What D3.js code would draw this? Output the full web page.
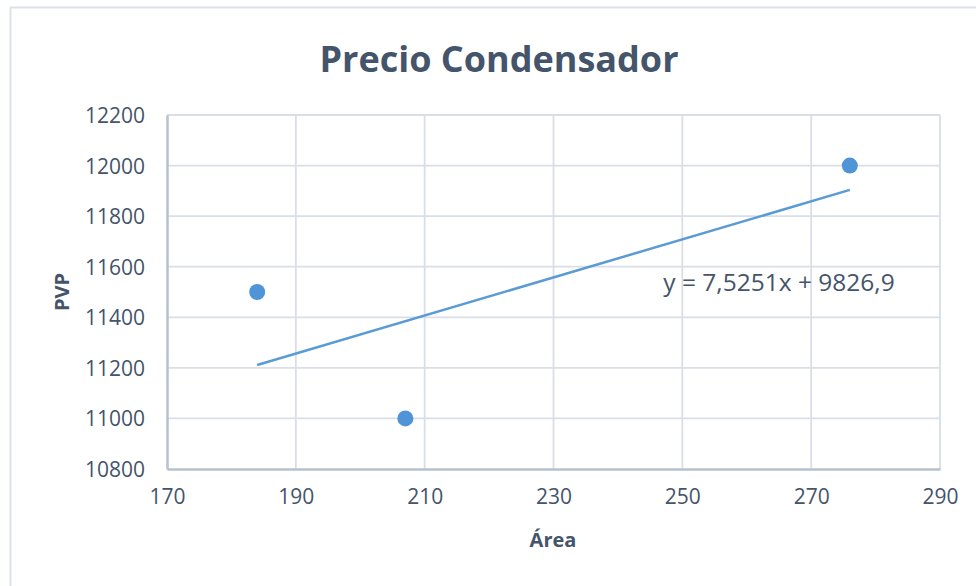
<!DOCTYPE html>
<html>
<head>
<meta charset="utf-8">
<script src="https://cdn.jsdelivr.net/npm/d3@7"></script>
<style>
html,body{margin:0;padding:0;background:#fff;}
svg{display:block;}
</style>
</head>
<body>
<svg id="chart" width="976" height="586"></svg>
<script>
const areaValues = [184, 207, 276];
const pvpValues = [11500, 11000, 12000];
const xTicks = [170, 190, 210, 230, 250, 270, 290];
const yTicks = [10800, 11000, 11200, 11400, 11600, 11800, 12000, 12200];
const trendSlope = 7.5251;
const trendIntercept = 9826.9;
const trendLabel = "y = 7,5251x + 9826,9";
const titleText = "Precio Condensador";
const xTitle = "Área";
const yTitle = "PVP";

const svg = d3.select("#chart");
const W = 976, H = 586;
const m = {left:167, right:36, top:115, bottom:117};
const textColor = "#44546a";
const font = "'Open Sans', 'Liberation Sans', sans-serif";

svg.append("rect").attr("x",0).attr("y",0).attr("width",W).attr("height",H).attr("fill","#fff");
// outer chart frame
svg.append("rect").attr("x",10.5).attr("y",7.5).attr("width",W+20).attr("height",H+20)
  .attr("fill","none").attr("stroke","#dde2ea").attr("stroke-width",2);

const x = d3.scaleLinear().domain([170,290]).range([m.left, W-m.right]);
const y = d3.scaleLinear().domain([10800,12200]).range([H-m.bottom, m.top]);

const g = svg.append("g");
// gridlines
g.selectAll(".hg").data(yTicks.slice(1)).join("line")
  .attr("x1",x(170)).attr("x2",x(290)).attr("y1",d=>y(d)).attr("y2",d=>y(d))
  .attr("stroke","#d9dee7").attr("stroke-width",1.8);
g.selectAll(".vg").data(xTicks.slice(1)).join("line")
  .attr("y1",y(10800)).attr("y2",y(12200)).attr("x1",d=>x(d)).attr("x2",d=>x(d))
  .attr("stroke","#d9dee7").attr("stroke-width",1.8);

// axes via d3
const yAxis = d3.axisLeft(y).tickValues(yTicks).tickSize(0).tickPadding(22).tickFormat(d3.format("d"));
const xAxis = d3.axisBottom(x).tickValues(xTicks).tickSize(0).tickPadding(16).tickFormat(d3.format("d"));
const ya = svg.append("g").attr("transform",`translate(${x(170)},0)`).call(yAxis);
const xa = svg.append("g").attr("transform",`translate(0,${y(10800)})`).call(xAxis);
[ya, xa].forEach(a=>{
  a.select(".domain").attr("stroke","#b7c1d0").attr("stroke-width",2.5);
  a.selectAll("text").attr("fill",textColor).attr("font-family",font).attr("font-size",21);
});
ya.selectAll("text").attr("dy","0.36em");
xa.selectAll("text").attr("dy","0.9em");

// trendline
const tx0 = d3.min(areaValues), tx1 = d3.max(areaValues);
svg.append("line")
  .attr("x1",x(tx0)).attr("y1",y(trendSlope*tx0+trendIntercept))
  .attr("x2",x(tx1)).attr("y2",y(trendSlope*tx1+trendIntercept))
  .attr("stroke","#5b9bd5").attr("stroke-width",2.5);

// points
svg.selectAll(".pt").data(areaValues.map((a,i)=>({a, p:pvpValues[i]}))).join("circle")
  .attr("cx",d=>x(d.a)).attr("cy",d=>y(d.p)).attr("r",8)
  .attr("fill","#5094d8");

// trend label
svg.append("text").attr("x",779).attr("y",291).attr("text-anchor","middle")
  .attr("fill",textColor).attr("font-family",font).attr("font-size",24.5)
  .text(trendLabel);

// title
svg.append("text").attr("x",499).attr("y",72).attr("text-anchor","middle")
  .attr("fill",textColor).attr("font-family",font).attr("font-weight","bold").attr("font-size",36)
  .text(titleText);

// axis titles
svg.append("text").attr("x",553).attr("y",547).attr("text-anchor","middle")
  .attr("fill",textColor).attr("font-family",font).attr("font-weight","bold").attr("font-size",20)
  .text(xTitle);
svg.append("text").attr("transform","translate(69,292) rotate(-90)").attr("text-anchor","middle")
  .attr("fill",textColor).attr("font-family",font).attr("font-weight","bold").attr("font-size",20)
  .text(yTitle);
</script>
</body>
</html>
